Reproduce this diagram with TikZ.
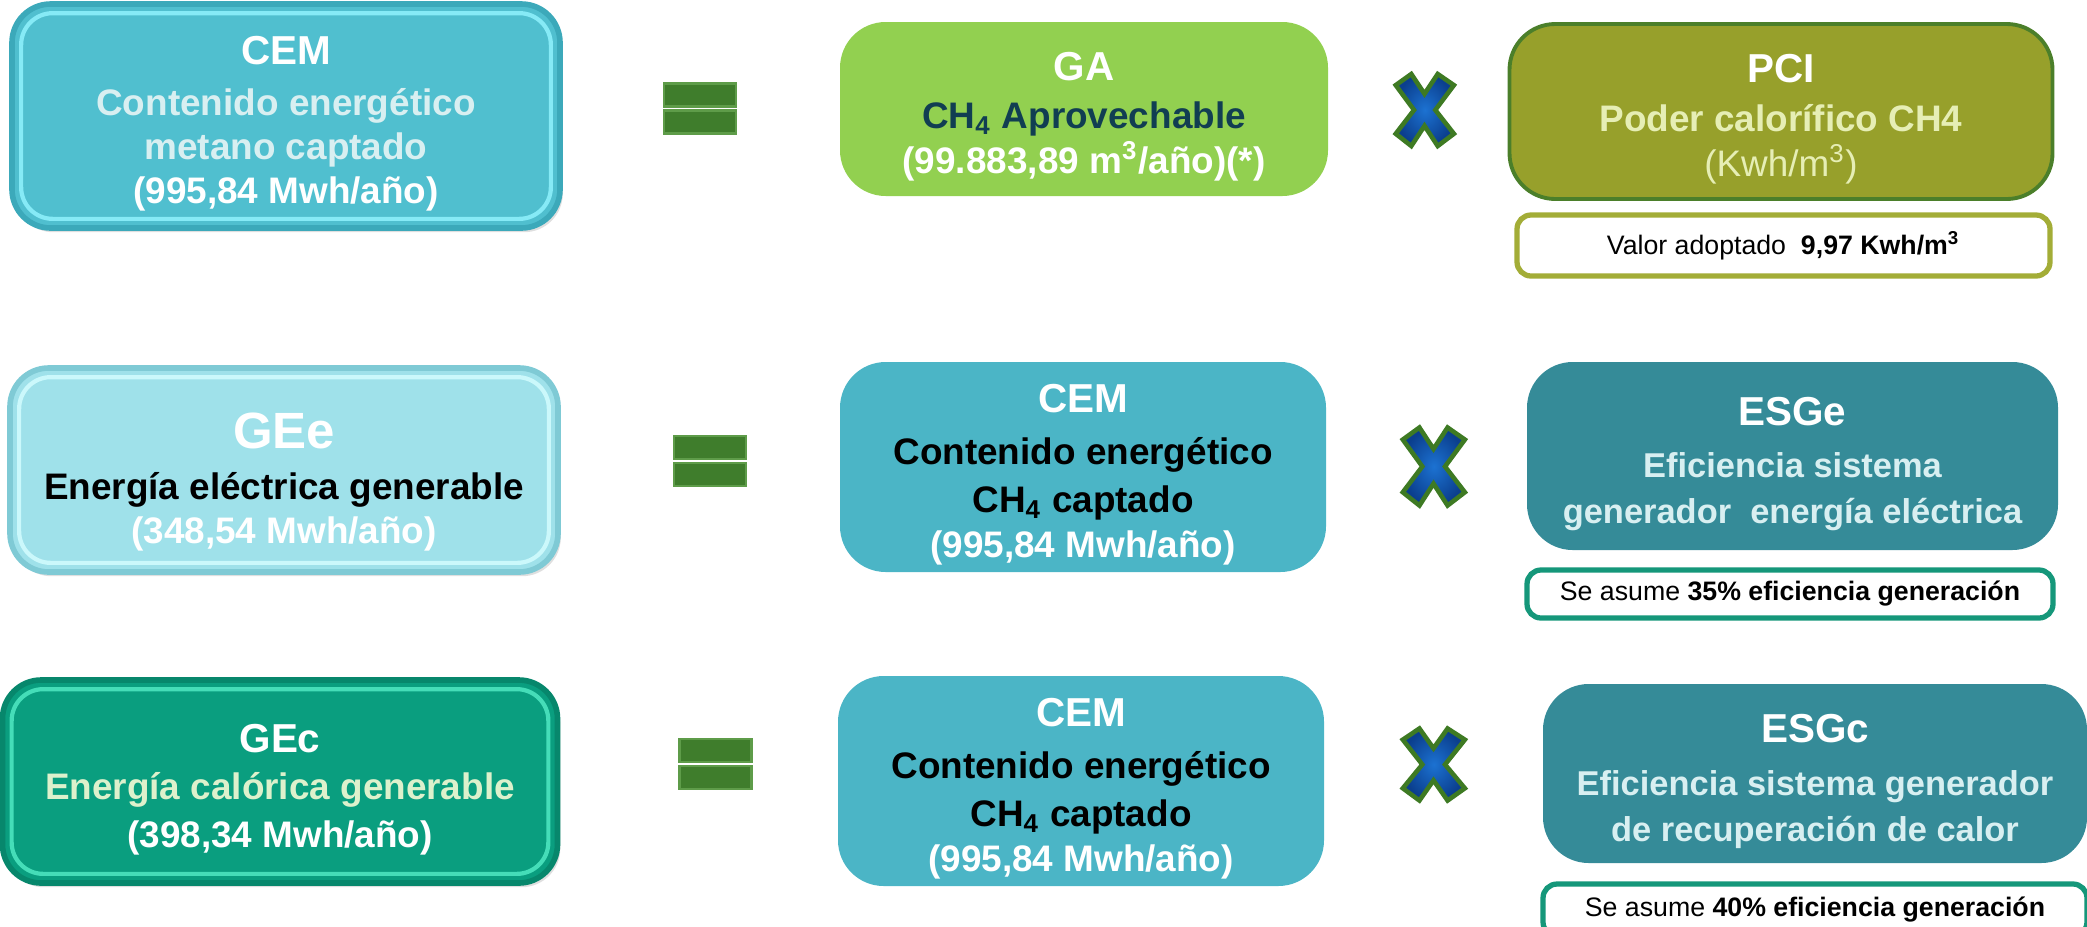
\documentclass[tikz,border=0pt]{standalone}
\usepackage{fontspec}
\setmainfont{Liberation Sans}
\usepackage{xcolor}
\usetikzlibrary{shadows}

% box colours
\definecolor{cemcyan}{HTML}{50BFCF}
\definecolor{cemedge}{HTML}{3CA9BA}
\definecolor{cemrim}{HTML}{86EAF6}
\definecolor{geecyan}{HTML}{9FE1EA}
\definecolor{geeedge}{HTML}{7FCAD5}
\definecolor{geerim}{HTML}{CBF8FB}
\definecolor{gecgreen}{HTML}{0A9E7F}
\definecolor{gecedge}{HTML}{07876C}
\definecolor{gecrim}{HTML}{45DDB8}
\definecolor{gagreen}{HTML}{92D050}
\definecolor{pciolive}{HTML}{97A02B}
\definecolor{pciedge}{HTML}{4B7F2A}
\definecolor{midcyan}{HTML}{4BB5C6}
\definecolor{esgteal}{HTML}{358B98}
\definecolor{valoredge}{HTML}{A3AD37}
\definecolor{asumeedge}{HTML}{15977A}
% text colours
\definecolor{palecyan}{HTML}{D8EFF1}
\definecolor{paleyellow}{HTML}{E6EEB5}
\definecolor{palegreen}{HTML}{DDF1CC}
\definecolor{navytext}{HTML}{113E52}
% symbol colours
\definecolor{eqgreen}{HTML}{3F7D2C}
\definecolor{eqedge}{HTML}{5E9C49}
\definecolor{xblue}{HTML}{1C72D2}
\definecolor{xdark}{HTML}{0B3F8E}
\definecolor{xgreen}{HTML}{3E7A23}

% first line of a box, with a strut so the block sits a little lower
\newcommand{\boxtitle}[1]{{\fontsize{11.5}{13}\selectfont\rule{0pt}{12.5pt}#1}}

\tikzset{
  bevelbox/.style n args={3}{rounded corners=11pt, fill=#1, draw=#2, line width=1.6pt,
    inner sep=0pt, align=center, font=\fontsize{10.5}{12.5}\selectfont\bfseries,
    drop shadow={shadow xshift=0.8pt, shadow yshift=-1.2pt, opacity=0.25},
    path picture={\draw[#3, line width=1.2pt, rounded corners=9pt]
      ([shift={(2.6pt,-2.6pt)}]path picture bounding box.north west) rectangle
      ([shift={(-2.6pt,2.6pt)}]path picture bounding box.south east);}},
  flatbox/.style={rounded corners=13pt, fill=#1, inner sep=0pt, align=center,
    font=\fontsize{10.5}{12.8}\selectfont\bfseries},
  notebox/.style={rounded corners=4pt, draw=#1, line width=1.5pt, fill=white,
    inner sep=0pt, font=\fontsize{7.6}{9}\selectfont},
  eqbar/.style={fill=eqgreen, draw=eqedge, line width=0.8pt},
  eqsign/.pic={
    \filldraw[eqbar] (-0.36,0.02) rectangle (0.36,0.25);
    \filldraw[eqbar] (-0.36,-0.02) rectangle (0.36,-0.25);
  },
  timesx/.pic={
    \path[draw=xgreen, line width=1.3pt, inner color=xblue, outer color=xdark]
      (-0.96,0.69) -- (-0.44,1) -- (0,0.45) -- (0.44,1) -- (0.98,0.69) -- (0.36,0)
      -- (0.98,-0.66) -- (0.44,-1) -- (0,-0.44) -- (-0.44,-1) -- (-0.96,-0.66)
      -- (-0.35,0) -- cycle;
  }
}

\begin{document}
\begin{tikzpicture}
  \useasboundingbox (0,0) rectangle (20.87,-9.26);

  %Row 1: CEM = GA x PCI
  \node[bevelbox={cemcyan}{cemedge}{cemrim}, minimum width=5.48cm, minimum height=2.24cm]
    (cemtop) at (2.86,-1.16)
    {\boxtitle{\color{white}CEM}\\[2pt]
     \color{palecyan}Contenido energético\\
     \color{palecyan}metano captado\\
     \color{white}(995,84 Mwh/año)};
  \path (7.00,-1.085) pic {eqsign};
  \node[flatbox=gagreen, minimum width=4.88cm, minimum height=1.74cm] (ga) at (10.84,-1.09)
    {\boxtitle{\color{white}GA}\\[1pt]
     \color{navytext}CH\textsubscript{4} Aprovechable\\
     \color{white}(99.883,89 m\textsuperscript{3}/año)(*)};
  \path (14.245,-1.10) pic[xscale=0.30, yscale=0.36] {timesx};
  \node[flatbox=pciolive, draw=pciedge, line width=1.1pt, minimum width=5.43cm, minimum height=1.75cm]
    (pci) at (17.81,-1.115)
    {\boxtitle{\color{white}PCI}\\[1pt]
     \color{paleyellow}Poder calorífico CH4\\
     \color{paleyellow}\mdseries(Kwh/m\textsuperscript{3})};
  \node[notebox=valoredge, minimum width=5.33cm, minimum height=0.61cm] (valor) at (17.835,-2.455)
    {Valor adoptado\ \ \textbf{9,97 Kwh/m\textsuperscript{3}}};

  %Row 2: GEe = CEM x ESGe
  \node[bevelbox={geecyan}{geeedge}{geerim}, minimum width=5.48cm, minimum height=2.04cm]
    (gee) at (2.84,-4.70)
    {{\fontsize{14.5}{16}\selectfont\rule{0pt}{17pt}\color{white}GEe}\\[2pt]
     \color{black}Energía eléctrica generable\\
     \color{white}(348,54 Mwh/año)};
  \path (7.10,-4.61) pic {eqsign};
  \node[flatbox=midcyan, minimum width=4.86cm, minimum height=2.10cm] (cemmid) at (10.83,-4.67)
    {\boxtitle{\color{white}CEM}\\[2pt]
     \color{black}Contenido energético\\[1pt]
     \color{black}CH\textsubscript{4} captado\\
     \color{white}(995,84 Mwh/año)};
  \path (14.335,-4.665) pic[xscale=0.32, yscale=0.39] {timesx};
  \node[flatbox=esgteal, minimum width=5.31cm, minimum height=1.88cm, font=\fontsize{9.8}{13}\selectfont\bfseries]
    (esge) at (17.925,-4.56)
    {\boxtitle{\color{white}ESGe}\\[2pt]
     \color{palecyan}Eficiencia sistema\\
     \color{palecyan}generador\ \ energía eléctrica};
  \node[notebox=asumeedge, minimum width=5.26cm, minimum height=0.48cm] (asumee) at (17.90,-5.94)
    {Se asume \textbf{35\% eficiencia generación}};

  %Row 3: GEc = CEM x ESGc
  \node[bevelbox={gecgreen}{gecedge}{gecrim}, minimum width=5.55cm, minimum height=2.03cm]
    (gec) at (2.80,-7.815)
    {\boxtitle{\color{white}GEc}\\[1pt]
     \color{palegreen}Energía calórica generable\\[1pt]
     \color{white}(398,34 Mwh/año)};
  \path (7.155,-7.64) pic {eqsign};
  \node[flatbox=midcyan, minimum width=4.86cm, minimum height=2.10cm] (cemlow) at (10.81,-7.81)
    {\boxtitle{\color{white}CEM}\\[2pt]
     \color{black}Contenido energético\\[1pt]
     \color{black}CH\textsubscript{4} captado\\
     \color{white}(995,84 Mwh/año)};
  \path (14.335,-7.645) pic[xscale=0.32, yscale=0.36] {timesx};
  \node[flatbox=esgteal, minimum width=5.44cm, minimum height=1.79cm, font=\fontsize{9.8}{13}\selectfont\bfseries]
    (esgc) at (18.15,-7.735)
    {\boxtitle{\color{white}ESGc}\\[2pt]
     \color{palecyan}Eficiencia sistema generador\\
     \color{palecyan}de recuperación de calor};
  \node[notebox=asumeedge, minimum width=5.44cm, minimum height=0.52cm] (asumec) at (18.15,-9.10)
    {Se asume \textbf{40\% eficiencia generación}};
\end{tikzpicture}
\end{document}
